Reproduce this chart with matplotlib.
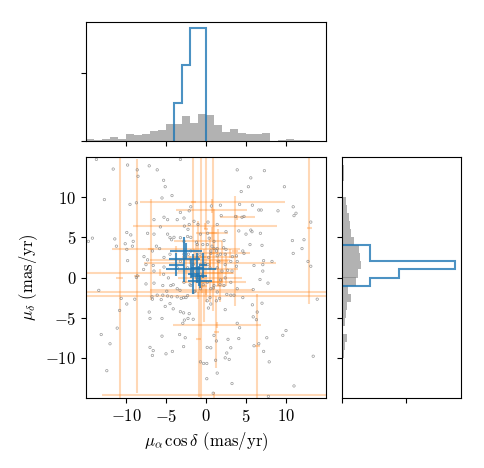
import numpy as np
import matplotlib
matplotlib.use("Agg")
import matplotlib.pyplot as plt

plt.rcParams['font.family'] = 'serif'
plt.rcParams['font.serif'] = ['cmr10', 'DejaVu Serif']
plt.rcParams['mathtext.fontset'] = 'cm'
plt.rcParams['axes.formatter.use_mathtext'] = True
plt.rcParams['font.size'] = 12

# ---- gray field stars (pmra, pmdec) ----
field_pts = [
    (-13.7, 14.7), (-11.6, 13.5), (-9.8, 14.0), (-8.6, 13.4), (-7.1, 13.9), (-6.1, 13.4), (-3.2, 14.7),
    (-8.5, 12.6), (-12.7, 9.7), (-9.5, 9.1), (-8.7, 9.3), (-5.3, 12.1), (-5.1, 11.3), (-4.25, 10.2),
    (-5.5, 9.9), (-1.9, 8.8), (-2.1, 8.3), (-3.2, 8.1), (-5.25, 7.5), (-4.8, 7.2), (-3.6, 7.2),
    (-2.75, 7.4), (-6.5, 7.2), (-2.1, 6.6), (-1.5, 7.0), (-1.0, 6.6), (-5.7, 6.3), (-2.7, 6.4),
    (-2.25, 6.0), (-9.9, 5.6), (-9.4, 5.3), (-7.3, 5.5), (-6.5, 5.4), (-4.8, 5.4), (-4.3, 4.7),
    (-4.0, 5.0), (-11.4, 4.8), (-14.7, 4.5), (-14.2, 4.9), (-11.2, 3.9), (-10.1, 4.2), (-9.1, 4.5),
    (-9.2, 3.9), (-9.9, 3.5), (-6.2, 3.9), (-5.8, 3.6), (-6.7, 3.3), (-7.75, 2.6), (-7.3, 2.2),
    (-9.8, 2.1), (-7.5, 1.6), (-6.6, 1.5), (-5.25, 1.3), (-7.8, 1.0), (-6.5, 0.8), (-8.6, 0.2),
    (3.9, 13.4), (7.3, 13.3), (5.6, 12.4), (5.3, 11.3), (4.4, 10.7), (9.8, 11.3), (0.67, 8.9),
    (1.8, 9.0), (4.2, 9.1), (5.8, 9.0), (6.6, 8.4), (6.9, 8.4), (9.0, 8.3), (10.9, 8.8), (11.0, 7.7),
    (11.25, 8.0), (4.75, 7.6), (4.5, 7.5), (3.7, 7.6), (1.9, 7.7), (1.4, 6.6), (0.25, 6.9), (2.5, 5.7),
    (4.1, 5.8), (5.0, 5.4), (5.6, 5.9), (5.75, 5.7), (6.8, 5.5), (13.1, 6.9), (10.8, 4.6), (12.25, 4.7),
    (12.0, 3.6), (10.9, 3.0), (7.0, 4.0), (5.5, 4.1), (4.6, 3.3), (4.75, 3.0), (3.3, 2.6), (3.8, 2.7),
    (1.0, 3.6), (1.4, 3.6), (2.5, 3.5), (7.2, 2.1), (8.25, 2.0), (7.1, 1.6), (12.75, 2.0), (13.1, 1.4),
    (7.1, 0.8), (6.0, 1.5), (3.8, 1.4), (3.25, 0.8), (1.4, 2.7), (0.6, 3.0), (0.2, 5.5), (0.4, 4.9),
    (-8.7, 0.0), (-7.5, -0.8), (-6.5, -0.7), (-5.4, -1.0), (-13.4, -1.6), (-10.6, -2.6), (-8.9, -2.7),
    (-9.9, -3.3), (-10.8, -4.1), (-6.75, -2.4), (-6.1, -2.2), (-5.4, -2.2), (-4.8, -2.3), (-4.3, -2.4),
    (-3.6, -2.4), (-3.1, -2.6), (-2.5, -2.5), (-5.6, -2.75), (-6.7, -2.7), (-4.5, -3.25), (-5.1, -3.6),
    (-4.1, -3.9), (-3.2, -4.25), (-2.8, -4.4), (-2.1, -4.5), (-2.25, -5.1), (-1.6, -5.2), (-7.1, -4.3),
    (-7.0, -5.1), (-5.5, -5.1), (-2.7, -5.3), (-2.9, -5.7), (-11.1, -6.3), (-13.1, -7.1), (-12.0, -8.25),
    (-5.5, -7.3), (-3.3, -7.1), (-2.6, -7.5), (-2.8, -8.6), (-7.0, -8.7), (-6.6, -9.1), (-6.7, -9.7),
    (-5.0, -9.5), (-4.2, -9.2), (-12.4, -11.6), (-0.7, -10.5), (-0.3, -10.7), (-1.0, -0.25), (-0.7, -1.4),
    (6.75, -0.25), (7.75, -0.7), (5.9, -1.5), (13.9, -2.7), (4.6, -2.5), (3.5, -2.2), (3.1, -2.2),
    (7.0, -3.2), (5.8, -3.4), (2.4, -4.0), (0.3, -3.8), (0.6, -3.3), (0.15, -2.9), (1.7, -2.6),
    (6.4, -4.3), (5.9, -4.9), (6.3, -5.25), (3.9, -5.7), (4.2, -6.25), (1.0, -7.2), (1.3, -7.9),
    (2.75, -7.7), (4.1, -7.6), (7.6, -7.5), (9.6, -7.2), (10.0, -6.6), (6.6, -8.25), (6.0, -8.5),
    (7.2, -9.2), (0.15, -8.7), (0.6, -8.75), (3.1, -8.75), (2.6, -9.4), (2.4, -10.0), (2.9, -10.2),
    (7.9, -10.5), (1.2, -10.3), (0.1, -10.7), (1.4, -11.9), (13.4, -9.8), (3.25, -13.2), (0.1, -12.6),
    (11.0, -13.5), (0.9, -14.4), (7.8, -14.8),
    (-4.5, 4.96), (-3.2, 4.96), (-2.3, 5.1), (-1.2, 4.4), (-0.4, 4.1), (0.75, 3.9), (1.3, 3.3),
    (2.2, 3.7), (2.4, 2.9), (-5.25, 2.5), (-4.5, 2.9), (-0.1, 1.7), (0.5, 1.2), (1.6, 2.0), (2.0, 0.8),
    (2.4, -0.05), (-5.3, 0.4), (-4.7, -0.05), (-4.1, -0.9), (-4.9, -1.7), (-3.25, -1.6), (-1.2, 0.04),
    (-0.35, -0.9), (0.9, -1.3), (1.75, -0.9), (0.5, -2.5), (2.6, -2.1), (-2.8, -2.5), (-2.0, -0.9),
    (-1.6, 1.6), (-2.2, 2.9), (-0.75, 2.9), (-1.4, -1.7), (1.3, -2.9),
    (0.17, 4.1), (1.0, 4.5), (2.25, 4.6), (0.6, 3.3), (1.8, 2.9), (2.4, 1.6), (3.1, 2.0), (0.25, 1.6),
    (1.4, 1.2), (2.7, 0.9), (3.9, 2.0), (0.33, 2.5), (0.17, -0.6), (1.0, -1.0), (1.8, -0.3), (0.6, -1.4),
    (1.4, -1.8), (2.25, -1.0), (3.1, -0.6), (3.9, -1.4), (-2.75, -0.6), (-1.9, -1.0), (-1.5, -1.8),
    (-3.6, -1.4), (-4.4, -1.0), (-2.3, -2.25), (-2.75, 2.9), (-1.9, 3.3), (-1.1, 2.5), (-0.7, 1.6),
    (-3.2, 2.0), (-2.3, 1.2), (-1.5, 0.8), (-0.7, 0.4), (-3.6, 1.2), (-2.75, 4.5), (-1.9, 5.0),
    (-1.1, 4.1), (-0.7, 5.4),
]
field_x = [p[0] for p in field_pts]
field_y = [p[1] for p in field_pts]

# ---- orange: stars with large uncertainties ----
wide_x    = [-10.8, -8.6, -1.6, -0.67, 0.0, 0.9, 12.9, 6.4, 1.3, -6.9, 3.6, -0.9,
             0.8, 0.7, 3.9, -0.15, -3.8, 0.5, -5.8, 0.0, -1.0, -0.55, 1.4, 1.0,
             -1.0, 1.5, 0.5, 2.5, -2.0, 1.0, 2.0, -0.3,
             -1.5, 0.5, 1.5, -0.5, 2.0, -2.5, 0.8, -1.2, 1.8, 3.0]
wide_y    = [0.0, 0.2, 9.4, 0.2, 6.0, 5.5, 6.1, -8.5, -6.8, 3.5, 3.3, -7.7,
             9.4, 8.4, 7.5, 6.4, 3.5, 1.8, 0.6, -1.8, -2.25, -1.5, -5.9, -14.6,
             4.5, 2.5, 0.0, 1.0, 2.2, 3.5, -0.5, -1.0,
             2.5, 3.0, 0.5, -0.5, 2.0, 0.8, 5.5, 1.2, -1.0, 3.0]
wide_xerr = [0.4, 0.4, 0.3, 0.4, 0.3, 0.5, 0.3, 0.3, 0.3, 0.4, 0.4, 0.3,
             9.1, 4.4, 2.2, 9.0, 8.0, 8.3, 9.2, 16.0, 16.0, 6.45, 5.5, 14.0,
             3.0, 2.5, 4.0, 1.5, 5.0, 0.4, 3.0, 0.4,
             1.5, 1.0, 2.0, 2.5, 0.8, 1.0, 2.0, 0.6, 0.6, 2.5]
wide_yerr = [15.5, 14.6, 6.0, 15.5, 9.0, 9.7, 9.4, 6.5, 4.5, 6.25, 6.9, 7.2,
             0.4, 0.4, 0.3, 0.4, 0.4, 0.4, 0.4, 0.4, 0.4, 0.4, 0.4, 0.4,
             2.5, 3.5, 3.0, 2.0, 0.5, 5.0, 0.4, 4.5,
             1.0, 2.0, 1.5, 0.8, 2.5, 1.5, 0.8, 3.0, 2.0, 0.6]

# ---- blue: members with precise measurements ----
memb_x    = [-3.7, -2.5, -2.7, -1.9, -1.6, -1.1, -0.7, -0.35, -0.9]
memb_y    = [1.6, 3.3, 2.3, 1.1, 0.4, 1.2, -0.45, 1.5, 0.2]
memb_xerr = [0.9, 2.0, 1.9, 3.1, 0.7, 0.8, 1.5, 0.5, 1.0]
memb_yerr = [1.4, 1.0, 2.8, 1.2, 2.5, 1.9, 0.8, 1.6, 1.2]

# ---- gray histogram densities (bins of 1 mas/yr from -15 to 15) ----
hist_edges = list(range(-15, 16))
field_pmra_density = [0.006, 0.002, 0.006, 0.012, 0.006, 0.021, 0.018, 0.020, 0.030, 0.033,
                      0.049, 0.051, 0.073, 0.054, 0.079, 0.076, 0.047, 0.027, 0.034, 0.023,
                      0.021, 0.021, 0.024, 0.001, 0.002, 0.006, 0.004, 0.004, 0.001, 0.0]
field_pmdec_density = [0.0, 0.0, 0.0, 0.0, 0.005, 0.008, 0.013, 0.018, 0.005, 0.011,
                       0.017, 0.021, 0.036, 0.024, 0.055, 0.063, 0.076, 0.071, 0.065, 0.047,
                       0.036, 0.031, 0.026, 0.021, 0.015, 0.005, 0.004, 0.007, 0.008, 0.003]

W, H = 485, 468
fig = plt.figure(figsize=(W / 100, H / 100), dpi=100)

def rect(x0, y0, x1, y1):
    return [x0 / W, 1 - y1 / H, (x1 - x0) / W, (y1 - y0) / H]

ax = fig.add_axes(rect(86, 157, 326, 398))
axt = fig.add_axes(rect(86, 22, 326, 141))
axr = fig.add_axes(rect(342, 157, 461, 398))

for a in (ax, axt, axr):
    a.tick_params(direction='out', length=3.5, width=0.8)

# main panel
ax.errorbar(wide_x, wide_y, xerr=wide_xerr, yerr=wide_yerr, fmt='none',
            ecolor='C1', alpha=0.3, elinewidth=1.5, zorder=1)
ax.scatter(field_x, field_y, s=3, facecolors='none', edgecolors='gray',
           linewidths=0.5, alpha=0.8, zorder=2)
ax.errorbar(memb_x, memb_y, xerr=memb_xerr, yerr=memb_yerr, fmt='none',
            ecolor='C0', alpha=0.8, elinewidth=1.5, zorder=3)
ax.set_xlim(-15, 15)
ax.set_ylim(-15, 15)
ax.set_xticks([-10, -5, 0, 5, 10])
ax.set_yticks([-10, -5, 0, 5, 10])
ax.set_xlabel(r'$\mu_\alpha\,\cos\delta$ (mas/yr)')
ax.set_ylabel(r'$\mu_\delta$ (mas/yr)')

# top histogram
edges = np.array(hist_edges, dtype=float)
axt.bar(edges[:-1], field_pmra_density, width=1.0, align='edge', color='0.5', alpha=0.6)
bx = np.arange(np.floor(min(memb_x)), np.ceil(max(memb_x)) + 1)
axt.hist(memb_x, bins=bx, density=True, histtype='step', color='C0', linewidth=1.5, alpha=0.8)
axt.set_xlim(-15, 15)
axt.set_ylim(0, 0.35)
axt.set_xticks([-10, -5, 0, 5, 10])
axt.set_yticks([0, 0.2])
axt.set_xticklabels([])
axt.set_yticklabels([])

# right histogram
axr.barh(edges[:-1], field_pmdec_density, height=1.0, align='edge', color='0.5', alpha=0.6)
by = np.arange(np.floor(min(memb_y)), np.ceil(max(memb_y)) + 1)
axr.hist(memb_y, bins=by, density=True, histtype='step', color='C0', linewidth=1.5,
         alpha=0.8, orientation='horizontal')
axr.set_ylim(-15, 15)
axr.set_xlim(0, 4 / 9 * 1.05)
axr.set_yticks([-10, -5, 0, 5, 10])
axr.set_xticks([0, 0.25])
axr.set_xticklabels([])
axr.set_yticklabels([])

fig.savefig('out.png', dpi=100)
